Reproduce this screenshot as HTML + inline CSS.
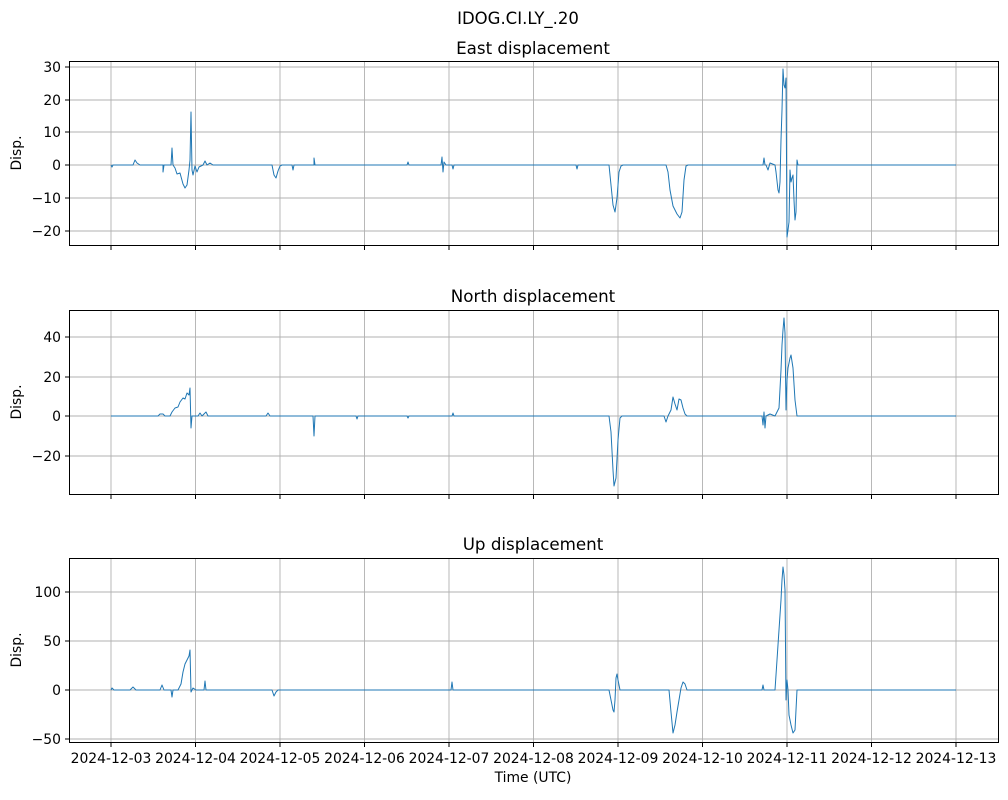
<!DOCTYPE html>
<html><head><meta charset="utf-8"><style>
body{margin:0;background:#fff;}
svg text{font-family:"DejaVu Sans","Liberation Sans",sans-serif;fill:#000;}
</style></head><body>
<svg width="1008" height="795" xmlns="http://www.w3.org/2000/svg">
<defs>
<g id="vg" stroke="#b0b0b0" stroke-width="0.9">
<line x1="111" x2="111" y1="0" y2="184"/><line x1="195.5" x2="195.5" y1="0" y2="184"/><line x1="280" x2="280" y1="0" y2="184"/><line x1="364.5" x2="364.5" y1="0" y2="184"/><line x1="449" x2="449" y1="0" y2="184"/><line x1="533.5" x2="533.5" y1="0" y2="184"/><line x1="618" x2="618" y1="0" y2="184"/><line x1="702.5" x2="702.5" y1="0" y2="184"/><line x1="787" x2="787" y1="0" y2="184"/><line x1="871.5" x2="871.5" y1="0" y2="184"/><line x1="956" x2="956" y1="0" y2="184"/>
</g>
<g id="xt" stroke="#000" stroke-width="1"><line x1="111" x2="111" y1="0" y2="4"/><line x1="195.5" x2="195.5" y1="0" y2="4"/><line x1="280" x2="280" y1="0" y2="4"/><line x1="364.5" x2="364.5" y1="0" y2="4"/><line x1="449" x2="449" y1="0" y2="4"/><line x1="533.5" x2="533.5" y1="0" y2="4"/><line x1="618" x2="618" y1="0" y2="4"/><line x1="702.5" x2="702.5" y1="0" y2="4"/><line x1="787" x2="787" y1="0" y2="4"/><line x1="871.5" x2="871.5" y1="0" y2="4"/><line x1="956" x2="956" y1="0" y2="4"/></g>
</defs>
<rect width="1008" height="795" fill="#fff"/>
<text x="518" y="24" font-size="16.5" text-anchor="middle">IDOG.CI.LY_.20</text>

<use href="#vg" y="61"/><use href="#vg" y="310"/><use href="#vg" y="558"/>
<g stroke="#b0b0b0" stroke-width="0.9">
<line x1="69" x2="998" y1="67" y2="67"/><line x1="69" x2="998" y1="100" y2="100"/><line x1="69" x2="998" y1="132" y2="132"/><line x1="69" x2="998" y1="165" y2="165"/><line x1="69" x2="998" y1="198" y2="198"/><line x1="69" x2="998" y1="231" y2="231"/>
<line x1="69" x2="998" y1="337" y2="337"/><line x1="69" x2="998" y1="377" y2="377"/><line x1="69" x2="998" y1="416" y2="416"/><line x1="69" x2="998" y1="456" y2="456"/>
<line x1="69" x2="998" y1="592" y2="592"/><line x1="69" x2="998" y1="641" y2="641"/><line x1="69" x2="998" y1="690" y2="690"/><line x1="69" x2="998" y1="739" y2="739"/>
</g>

<g fill="none" stroke="#1f77b4" stroke-width="1" stroke-linejoin="round">
<polyline points="111,165 112,167 113,165 133,165 135,160 137,163 140,165 163,165 163,172 164,165 171,165 172,148 173,165 175,168 177,174 180,173 183,184 185,188 187,185 189,170 190,160 191,112 192,170 193,175 195,166 197,172 199,167 203,165 205,161 207,165 210,163 213,165 272,165 274,175 276,178 278,171 280,166 282,165 292,165 293,170 294,165 314,165 314,158 315,165 407,165 408,162 409,165 441,165 442,157 443,172 444,162 446,165 452,165 453,169 454,165 576,165 577,169 578,165 609,165 611,185 613,205 615,212 617,198 619,172 621,166 623,165 666,165 668,172 670,190 673,206 677,214 680,218 682,212 684,180 686,166 688,165 763,165 764,158 765,165 766,165 768,170 770,163 775,165 776,172 778,190 779,193 780,182 781,140 782,110 783,69 784,85 785,88 786,78 787,237 788,230 789,222 790,170 791,182 792,178 793,175 794,200 795,220 796,212 797,160 798,165 956,165"/>
<polyline points="111,416 150,416 158,416 160,414 163,414 165,416 170,416 172,412 175,408 178,407 180,402 183,398 185,399 187,393 189,395 190,388 191,428 192,416 198,416 200,413 202,416 206,412 208,416 266,416 268,413 270,416 296,416 313,416 314,436 315,416 356,416 357,419 358,416 407,416 408,418 409,416 452,416 453,413 454,416 609,416 611,432 613,470 614,486 616,478 618,440 620,418 622,416 664,416 666,422 668,416 671,410 673,397 675,404 677,410 679,399 681,400 683,408 685,414 687,416 762,416 763,425 764,412 765,428 766,416 770,414 775,416 777,412 779,408 781,370 782,345 783,330 784,318 785,333 786,410 787,380 788,368 790,358 791,355 793,368 795,400 797,416 956,416"/>
<polyline points="111,690 112,688 114,690 130,690 133,687 136,690 160,690 162,685 164,690 171,690 172,697 173,690 178,690 181,684 183,672 185,664 187,660 189,656 190,650 191,692 193,688 196,690 204,690 205,681 206,690 272,690 274,696 276,692 278,690 296,690 451,690 452,682 453,690 609,690 611,700 613,710 614,712 615,700 616,678 617,674 618,680 620,690 669,690 671,712 673,733 675,725 677,712 679,700 681,688 683,682 685,684 687,690 762,690 763,685 764,690 775,690 777,660 779,630 781,600 782,580 783,567 784,575 785,590 786,700 787,680 788,690 789,715 791,725 793,733 795,730 797,690 956,690"/>
</g>

<g fill="none" stroke="#000" stroke-width="1">
<rect x="69.5" y="61.5" width="929" height="184"/>
<rect x="69.5" y="310.5" width="929" height="184"/>
<rect x="69.5" y="558.5" width="929" height="184"/>
</g>
<use href="#xt" y="246"/><use href="#xt" y="495"/><use href="#xt" y="743"/>
<g stroke="#000">
<line x1="65" x2="69" y1="67" y2="67"/><line x1="65" x2="69" y1="100" y2="100"/><line x1="65" x2="69" y1="132" y2="132"/><line x1="65" x2="69" y1="165" y2="165"/><line x1="65" x2="69" y1="198" y2="198"/><line x1="65" x2="69" y1="231" y2="231"/>
<line x1="65" x2="69" y1="337" y2="337"/><line x1="65" x2="69" y1="377" y2="377"/><line x1="65" x2="69" y1="416" y2="416"/><line x1="65" x2="69" y1="456" y2="456"/>
<line x1="65" x2="69" y1="592" y2="592"/><line x1="65" x2="69" y1="641" y2="641"/><line x1="65" x2="69" y1="690" y2="690"/><line x1="65" x2="69" y1="739" y2="739"/>
</g>
<g font-size="13.9" text-anchor="end">
<text x="61" y="72">30</text><text x="61" y="105">20</text><text x="61" y="137">10</text><text x="61" y="170">0</text><text x="61" y="203">−10</text><text x="61" y="236">−20</text>
<text x="61" y="342">40</text><text x="61" y="382">20</text><text x="61" y="421">0</text><text x="61" y="461">−20</text>
<text x="61" y="597">100</text><text x="61" y="646">50</text><text x="61" y="695">0</text><text x="61" y="744">−50</text>
</g>
<g font-size="16.7" text-anchor="middle">
<text x="533" y="54">East displacement</text>
<text x="533" y="302">North displacement</text>
<text x="533" y="550">Up displacement</text>
</g>
<g font-size="13.9" text-anchor="middle">
<text transform="translate(21,153) rotate(-90)">Disp.</text>
<text transform="translate(21,402) rotate(-90)">Disp.</text>
<text transform="translate(21,650) rotate(-90)">Disp.</text>
<text x="111" y="763">2024-12-03</text><text x="195.5" y="763">2024-12-04</text><text x="280" y="763">2024-12-05</text><text x="364.5" y="763">2024-12-06</text><text x="449" y="763">2024-12-07</text><text x="533.5" y="763">2024-12-08</text><text x="618" y="763">2024-12-09</text><text x="702.5" y="763">2024-12-10</text><text x="787" y="763">2024-12-11</text><text x="871.5" y="763">2024-12-12</text><text x="956" y="763">2024-12-13</text>
<text x="533" y="782">Time (UTC)</text>
</g>
</svg>
</body></html>
